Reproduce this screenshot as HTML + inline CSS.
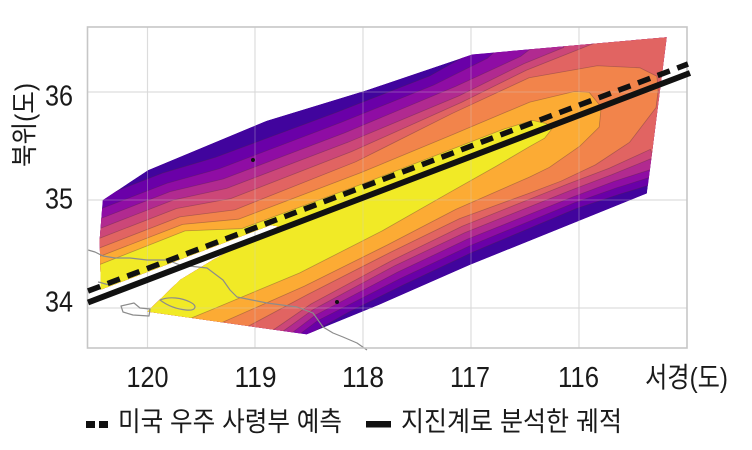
<!DOCTYPE html>
<html><head><meta charset="utf-8">
<style>html,body{margin:0;padding:0;background:#fff;width:752px;height:450px;overflow:hidden}svg{display:block}</style>
</head><body>
<svg width="752" height="450" viewBox="0 0 752 450" xmlns="http://www.w3.org/2000/svg">
<defs>
<clipPath id="hull"><polygon points="50,-90 103,-102 231,-106 336,-99 447,-95 635,-42 561,97 370,101 272,106 193,108 52,30 94,12 132,5 159,1.3 205,-3 198,-7 16,-7 20,-17 33,-54"/></clipPath>
</defs>
<rect width="752" height="450" fill="#fff"/>
<!-- grid -->
<g stroke="#e3e3e3" stroke-width="1.2">
<line x1="147.5" y1="27" x2="147.5" y2="348"/><line x1="255" y1="27" x2="255" y2="348"/><line x1="363" y1="27" x2="363" y2="348"/><line x1="471" y1="27" x2="471" y2="348"/><line x1="579" y1="27" x2="579" y2="348"/>
<line x1="88" y1="92" x2="687" y2="92"/><line x1="88" y1="200" x2="687" y2="200"/><line x1="88" y1="308" x2="687" y2="308"/>
</g>
<!-- contour fill -->
<g transform="translate(88 302) rotate(-20.8)">
<g clip-path="url(#hull)" stroke="#4a2a3a" stroke-opacity="0.35" stroke-width="0.8" stroke-linejoin="round">
<polygon fill="#41049d" stroke="none" points="50,-90 103,-102 231,-106 336,-99 447,-95 635,-42 561,97 370,101 272,106 193,108 52,30 94,12 132,5 159,1.3 205,-3 198,-7 16,-7 20,-17 33,-54"/>
<polygon fill="#6a00a8" points="-40,-93 116,-94 170,-90 300,-89 400,-90 440,-96 450,-100 640,-50 640,130 566,130 566,90 535,88 490,86 377,90 300,96 240,102 200,108 100,140 -40,140"/>
<polygon fill="#8f0da4" points="-40,-82 116,-83 170,-78 300,-78 400,-80 460,-86 475,-92 480,-100 640,-50 640,130 569,130 569,83 535,81 490,80 377,83 300,89 208,99 170,110 100,140 -40,140"/>
<polygon fill="#b12a90" points="-40,-73 116,-74 170,-67 300,-67 420,-71 492,-76 505,-80 510,-90 640,-50 640,130 573,130 573,76 535,74 490,74 377,76 300,82 208,93 150,110 100,140 -40,140"/>
<polygon fill="#cc4778" points="-40,-64 116,-65 170,-57 300,-57 420,-61 492,-68 535,-69 540,-80 640,-50 640,130 577,130 577,66 535,67 490,67 377,69 300,75 208,87 140,105 100,140 -40,140"/>
<polygon fill="#e16462" points="-40,-55 116,-56 170,-46 300,-47 420,-54 492,-61 560,-62 575,-62 580,-70 640,-50 640,130 580,130 580,57 535,60 490,60 377,62 300,69 208,81 130,100 100,140 -40,140"/>
<polygon fill="#f2844b" points="-40,-46 116,-47 170,-34 300,-36 408,-47 492,-53 560,-40 599,-23 612,-9 608,5 600,20 563,43 523,52 485,55 450,55 377,54 300,61 208,71 114,83 -40,100"/>
<polygon fill="#fcab34" points="-40,-38 116,-39 170,-24 300,-24 400,-27 484,-30 530,-24 543,-18 549,0 540,18 515,29 479,38 457,40 377,44 300,53 208,62 114,67 -40,75"/>
<polygon fill="#f1ea26" points="-40,-30 116,-32 140,-24 170,-14 300,-13 450,-14 480,-12 492,-4 495,3 485,9 468,11.5 430,18 377,26 300,38 208,48 114,51 -40,55"/>
</g>
</g>
<!-- faint grid over fill -->
<g stroke="#cfcfcf" stroke-opacity="0.35" stroke-width="1">
<line x1="147.5" y1="27" x2="147.5" y2="348"/><line x1="255" y1="27" x2="255" y2="348"/><line x1="363" y1="27" x2="363" y2="348"/><line x1="471" y1="27" x2="471" y2="348"/><line x1="579" y1="27" x2="579" y2="348"/>
<line x1="88" y1="92" x2="687" y2="92"/><line x1="88" y1="200" x2="687" y2="200"/><line x1="88" y1="308" x2="687" y2="308"/>
</g>
<!-- coastline -->
<g fill="none" stroke="#8c8c8c" stroke-width="1.2" stroke-linejoin="round">
<polyline points="88,250 95,252 103,256 115,258 130,258 147,260 167,260 180,265 207,268 223,280 230,290 237,297 252,300 267,303 297,307 313,313 323,327 333,333 343,337 357,343 367,350"/>
<polygon points="121,306 134,303 140,308 150,309 149,316 133,315 123,312"/>
<path d="M160,300 C170,296 182,298 190,302 C198,306 196,311 186,310 C176,309 168,306 160,300 Z"/>
<path d="M98,282 C104,283 108,286 112,284"/>
</g>
<!-- dots -->
<circle cx="253" cy="160" r="2" fill="#111"/>
<circle cx="337" cy="302" r="2" fill="#111"/>
<circle cx="668" cy="72" r="2" fill="#333"/>
<!-- frame -->
<rect x="87.5" y="27" width="599.5" height="321" fill="none" stroke="#c6c6c6" stroke-width="1.6"/>
<!-- track lines -->
<line x1="88" y1="291" x2="688" y2="64" stroke="#111" stroke-width="5.5" stroke-dasharray="13 8"/>
<line x1="88" y1="302.5" x2="690" y2="73" stroke="#111" stroke-width="6"/>
<!-- tick labels -->
<g font-family="'Liberation Sans', sans-serif" font-size="29" fill="#1a1a1a" text-anchor="middle">
<text x="147.5" y="387" textLength="42" lengthAdjust="spacingAndGlyphs">120</text>
<text x="255.5" y="387" textLength="42" lengthAdjust="spacingAndGlyphs">119</text>
<text x="363" y="387" textLength="42" lengthAdjust="spacingAndGlyphs">118</text>
<text x="470" y="387" textLength="40" lengthAdjust="spacingAndGlyphs">117</text>
<text x="578.5" y="387" textLength="41" lengthAdjust="spacingAndGlyphs">116</text>
</g>
<g font-family="'Liberation Sans', sans-serif" font-size="29" fill="#1a1a1a" text-anchor="end">
<text x="73" y="105.5" textLength="28" lengthAdjust="spacingAndGlyphs">36</text>
<text x="73" y="208.5" textLength="28" lengthAdjust="spacingAndGlyphs">35</text>
<text x="73" y="311.5" textLength="28" lengthAdjust="spacingAndGlyphs">34</text>
</g>
<text x="686.5" y="387" font-family="'Liberation Sans', 'Noto Sans CJK KR', sans-serif" font-size="28" fill="#1a1a1a" text-anchor="middle" textLength="83" lengthAdjust="spacingAndGlyphs">서경(도)</text>
<text transform="translate(24,125) rotate(-90)" x="0" y="10" font-family="'Liberation Sans', 'Noto Sans CJK KR', sans-serif" font-size="27" fill="#1a1a1a" text-anchor="middle" textLength="84" lengthAdjust="spacingAndGlyphs">북위(도)</text>
<!-- legend -->
<rect x="86" y="421" width="9" height="7" fill="#111"/>
<rect x="99" y="421" width="9" height="7" fill="#111"/>
<text x="118" y="431" font-family="'Liberation Sans', 'Noto Sans CJK KR', sans-serif" font-size="27" fill="#1a1a1a" textLength="224" lengthAdjust="spacingAndGlyphs">미국 우주 사령부 예측</text>
<rect x="366" y="421" width="25" height="6.5" fill="#111"/>
<text x="401" y="431" font-family="'Liberation Sans', 'Noto Sans CJK KR', sans-serif" font-size="27" fill="#1a1a1a" textLength="221" lengthAdjust="spacingAndGlyphs">지진계로 분석한 궤적</text>
</svg>
</body></html>
